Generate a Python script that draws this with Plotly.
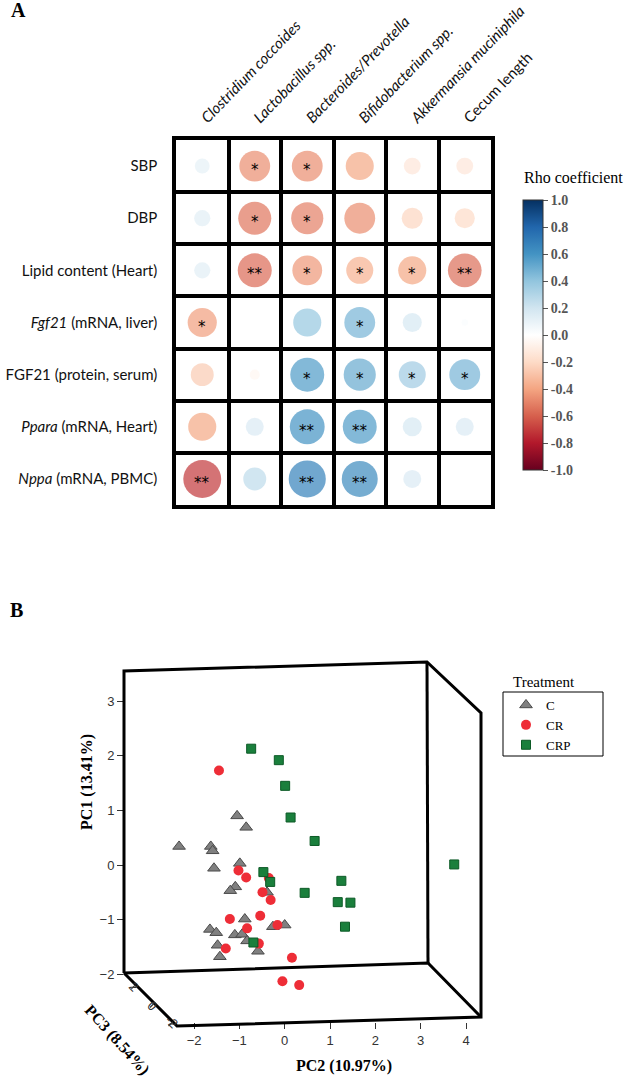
import numpy as np
import plotly.graph_objects as go

W, H = 625, 1077

# ---------------- Panel A data ----------------
row_labels = ["SBP", "DBP", "Lipid content (Heart)", "<i>Fgf21</i> (mRNA, liver)",
              "FGF21 (protein, serum)", "<i>Ppara</i> (mRNA, Heart)", "<i>Nppa</i> (mRNA, PBMC)"]
col_labels = ["<i>Clostridium coccoides</i>", "<i>Lactobacillus spp.</i>", "<i>Bacteroides/Prevotella</i>",
              "<i>Bifidobacterium spp.</i>", "<i>Akkermansia muciniphila</i>", "Cecum length"]

rho_sbp = [0.11, -0.47, -0.47, -0.39, -0.14, -0.14]
rho_dbp = [0.13, -0.54, -0.51, -0.47, -0.22, -0.20]
rho_lipid = [0.13, -0.57, -0.44, -0.36, -0.39, -0.56]
rho_fgf21_mrna = [-0.42, 0.0, 0.39, 0.47, 0.18, 0.02]
rho_fgf21_prot = [-0.26, -0.05, 0.57, 0.51, 0.36, 0.47]
rho_ppara = [-0.39, 0.16, 0.60, 0.57, 0.18, 0.16]
rho_nppa = [-0.71, 0.26, 0.68, 0.64, 0.16, 0.0]

sig_sbp = ["", "*", "*", "", "", ""]
sig_dbp = ["", "*", "*", "", "", ""]
sig_lipid = ["", "**", "*", "*", "*", "**"]
sig_fgf21_mrna = ["*", "", "", "*", "", ""]
sig_fgf21_prot = ["", "", "*", "*", "*", "*"]
sig_ppara = ["", "", "**", "**", "", ""]
sig_nppa = ["**", "", "**", "**", "", ""]

rho_rows = [rho_sbp, rho_dbp, rho_lipid, rho_fgf21_mrna, rho_fgf21_prot, rho_ppara, rho_nppa]
sig_rows = [sig_sbp, sig_dbp, sig_lipid, sig_fgf21_mrna, sig_fgf21_prot, sig_ppara, sig_nppa]

cbar_ticks = [1.0, 0.8, 0.6, 0.4, 0.2, 0.0, -0.2, -0.4, -0.6, -0.8, -1.0]

# ---------------- Panel B data ----------------
c_pc2 = [-1.05, -0.85, -2.33, -1.63, -1.59, -1.56, -0.99, -1.09, -1.20, -0.39, -0.88,
         -1.65, -1.51, -1.10, -0.94, -0.83, -0.26, 0.00, -1.48, -1.43, -0.59]
c_pc1 = [0.90, 0.69, 0.34, 0.34, 0.26, -0.06, 0.03, -0.40, -0.47, -0.50, -0.99,
         -1.18, -1.24, -1.28, -1.27, -1.39, -1.13, -1.10, -1.47, -1.68, -1.58]
cr_pc2 = [-1.45, -1.02, -0.85, -0.35, -0.49, -0.31, -1.21, -0.54, -0.83, -0.16, -0.57,
          -1.30, 0.16, -0.05, 0.32]
cr_pc1 = [1.73, -0.10, -0.23, -0.24, -0.50, -0.64, -0.99, -0.93, -1.16, -1.10, -1.44,
          -1.53, -1.70, -2.13, -2.20]
crp_pc2 = [-0.74, -0.13, 0.01, 0.13, 0.66, -0.47, -0.32, 0.44, 1.25, 1.17, 1.45, 1.33, -0.69, 3.74]
crp_pc1 = [2.13, 1.92, 1.45, 0.87, 0.44, -0.13, -0.31, -0.51, -0.29, -0.68, -0.69, -1.13, -1.42, 0.01]

pc2_ticks = [-2, -1, 0, 1, 2, 3, 4]
pc1_ticks = [-2, -1, 0, 1, 2, 3]
pc3_ticks = ["2", "0", "-2"]

# ---------------- helpers ----------------
def px(x, y):
    return x / W, 1 - y / H

rdbu = ["#67001F", "#B2182B", "#D6604D", "#F4A582", "#FDDBC7", "#FFFFFF",
        "#D1E5F0", "#92C5DE", "#4393C3", "#2166AC", "#053061"]
colorscale = [[i / 10, c] for i, c in enumerate(rdbu)]

fig = go.Figure()

# Panel A bubbles
xs, ys, vals, sizes = [], [], [], []
for ri, rr in enumerate(rho_rows):
    for ci, v in enumerate(rr):
        xs.append(ci)
        ys.append(ri)
        vals.append(v)
        sizes.append(45 * np.sqrt(abs(v)))

fig.add_trace(go.Scatter(
    x=xs, y=ys, mode="markers", xaxis="x", yaxis="y", showlegend=False,
    marker=dict(size=sizes, sizemode="diameter", color=vals, cmin=-1, cmax=1,
                colorscale=colorscale, line=dict(width=0),
                colorbar=dict(thickness=20, thicknessmode="pixels", len=270, lenmode="pixels",
                              x=523 / W, xanchor="left", y=1 - 200 / H, yanchor="top",
                              xpad=0, ypad=0, outlinewidth=1, outlinecolor="#333",
                              tickvals=cbar_ticks, ticktext=[f"{t:.1f}" for t in cbar_ticks],
                              ticks="outside", ticklen=5, tickcolor="#555",
                              tickfont=dict(family="Liberation Serif", size=14, color="#555",
                                            weight="bold"))),
    hoverinfo="skip"))

annotations = []
for ri, sr in enumerate(sig_rows):
    for ci, s in enumerate(sr):
        if s:
            annotations.append(dict(x=ci, y=ri, xref="x", yref="y", text=s, showarrow=False,
                                    yshift=-4, font=dict(family="DejaVu Sans", size=15, color="black")))

# Panel B scatter
fig.add_trace(go.Scatter(x=c_pc2, y=c_pc1, mode="markers", name="C", xaxis="x2", yaxis="y2",
                         marker=dict(symbol="triangle-up", size=11, color="#808080",
                                     line=dict(color="#4a4a4a", width=1))))
fig.add_trace(go.Scatter(x=cr_pc2, y=cr_pc1, mode="markers", name="CR", xaxis="x2", yaxis="y2",
                         marker=dict(symbol="circle", size=10, color="#EE2D37",
                                     line=dict(width=0))))
fig.add_trace(go.Scatter(x=crp_pc2, y=crp_pc1, mode="markers", name="CRP", xaxis="x2", yaxis="y2",
                         marker=dict(symbol="square", size=9, color="#1A7F3C",
                                     line=dict(color="#0c5a26", width=1))))

# 3D box frame (decoration, pixel layout)
frame_segments = [
    [(124, 973), (124, 671), (427, 662), (481, 713), (481, 1017), (177, 1026), (124, 973)],
    [(124, 973), (428, 963), (481, 1017)],
    [(427, 662), (428, 963)],
]
shapes = []
for seg in frame_segments:
    path = ""
    for i, (x, y) in enumerate(seg):
        fx, fy = px(x, y)
        path += ("M" if i == 0 else " L") + f"{fx:.5f},{fy:.5f}"
    shapes.append(dict(type="path", xref="paper", yref="paper", path=path,
                       line=dict(color="black", width=3)))

# PC3 ticks on the depth diagonal
d0, d1 = np.array([124, 973]), np.array([177, 1026])
perp = np.array([-1, 1]) / np.sqrt(2)
for t, lab in zip([0.22, 0.57, 0.92], pc3_ticks):
    p = d0 + t * (d1 - d0)
    q = p + 6 * perp
    a, b = px(*p)
    c, d = px(*q)
    shapes.append(dict(type="line", xref="paper", yref="paper", x0=a, y0=b, x1=c, y1=d,
                       line=dict(color="#333", width=1.2)))
    lp = p + 18 * perp
    lx, ly = px(*lp)
    annotations.append(dict(x=lx, y=ly, xref="paper", yref="paper", text=lab, showarrow=False,
                            textangle=45, font=dict(family="Liberation Sans", size=13, color="#333")))

# Legend box
lx0, ly0 = px(503, 692)
lx1, ly1 = px(603, 756)
shapes.append(dict(type="rect", xref="paper", yref="paper", x0=lx0, y0=ly1, x1=lx1, y1=ly0,
                   line=dict(color="black", width=1)))

def ann(x, y, text, size, bold=False, family="Liberation Serif", angle=0, color="black"):
    fx, fy = px(x, y)
    annotations.append(dict(x=fx, y=fy, xref="paper", yref="paper", text=text, showarrow=False,
                            textangle=angle, xanchor="center", yanchor="middle",
                            font=dict(family=family, size=size, color=color,
                                      weight="bold" if bold else "normal")))

ann(18, 10, "A", 20, bold=True)
ann(16, 610, "B", 20, bold=True)
ann(573, 178, "Rho coefficient", 16)
ann(544, 682, "Treatment", 15)
ann(87, 782, "PC1 (13.41%)", 16, bold=True, angle=-90)
ann(344, 1066, "PC2 (10.97%)", 16, bold=True)
ann(117, 1040, "PC3 (8.54%)", 16, bold=True, angle=48)

# Panel B axis ranges (pixel calibration of the projected axes)
x2_lo = (124 - 284.7) / 45.33
x2_hi = (481 - 284.7) / 45.33
y2_lo = (865 - 1022) / 54.6
y2_hi = (865 - 662) / 54.6

fig.update_layout(
    width=W, height=H, margin=dict(l=0, r=0, t=0, b=0, autoexpand=False), autosize=False,
    paper_bgcolor="white", plot_bgcolor="white",
    xaxis=dict(domain=[176 / W, 491 / W], range=[-0.5, 5.5], side="top", anchor="y",
               tickvals=list(range(6)), ticktext=col_labels, tickangle=-46,
               ticks="outside", ticklen=4, tickcolor="rgba(0,0,0,0)",
               tickfont=dict(family="Lato", size=15, color="#111"),
               showgrid=False, zeroline=False, showline=True, mirror=True,
               linecolor="black", linewidth=3.5,
               minor=dict(tickvals=[0.5, 1.5, 2.5, 3.5, 4.5], showgrid=True,
                          gridcolor="black", gridwidth=3.5, ticks="")),
    yaxis=dict(domain=[1 - 505 / H, 1 - 140 / H], range=[6.5, -0.5], anchor="x",
               tickvals=list(range(7)), ticktext=row_labels,
               ticks="outside", ticklen=12, tickcolor="rgba(0,0,0,0)",
               tickfont=dict(family="Lato", size=15, color="#111"),
               showgrid=False, zeroline=False, showline=True, mirror=True,
               linecolor="black", linewidth=3.5,
               minor=dict(tickvals=[0.5, 1.5, 2.5, 3.5, 4.5, 5.5], showgrid=True,
                          gridcolor="black", gridwidth=3.5, ticks="")),
    xaxis2=dict(domain=[124 / W, 481 / W], range=[x2_lo, x2_hi], anchor="y2",
                tickvals=pc2_ticks, ticks="outside", ticklen=6, tickcolor="#333", tickwidth=1.2,
                tickfont=dict(family="Liberation Sans", size=13, color="#333"),
                showgrid=False, zeroline=False, showline=False),
    yaxis2=dict(domain=[1 - 1022 / H, 1 - 662 / H], range=[y2_lo, y2_hi], anchor="x2",
                tickvals=pc1_ticks, ticks="outside", ticklen=6, tickcolor="#333", tickwidth=1.2,
                tickfont=dict(family="Liberation Sans", size=13, color="#333"),
                showgrid=False, zeroline=False, showline=False),
    legend=dict(x=506 / W, y=1 - 690 / H, xanchor="left", yanchor="top",
                bgcolor="rgba(0,0,0,0)", borderwidth=0,
                font=dict(family="Liberation Serif", size=13, color="black"),
                tracegroupgap=0),
    shapes=shapes,
    annotations=annotations,
)

fig.write_html("out.html", config={"displayModeBar": False},
               post_script="document.body.style.margin='0';document.body.style.overflow='hidden';")
